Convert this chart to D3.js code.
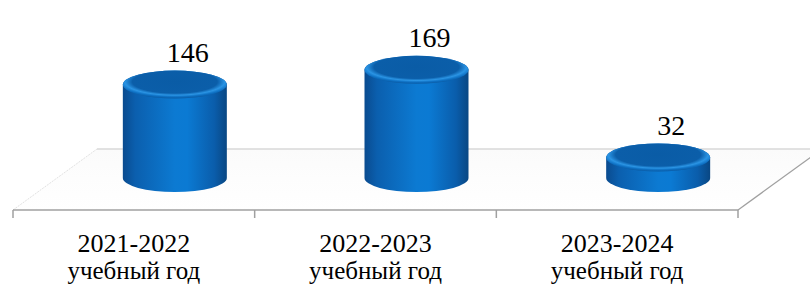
<!DOCTYPE html>
<html>
<head>
  <meta charset="UTF-8">
  <script src="https://d3js.org/d3.v7.min.js"></script>
</head>
<body style="margin:0">
  <script>
    // data
    const years = ["2021-2022", "2022-2023", "2023-2024"];
    const subtitle = "учебный год";
    const values = [146, 169, 32];

    const W = 810, H = 287;
    const FONT = "Liberation Serif";
    const svg = d3.select("body").append("svg")
      .attr("width", W).attr("height", H);

    // floor geometry (3d perspective)
    const front = { y: 210, x0: 13, x1: 738 };
    const back = { y: 149, x0: 97 };
    const depthShift = 41;   // bar centre sits back in the floor
    const rx = 52, ry = 14;

    const x = d3.scaleBand().domain(years).range([front.x0, front.x1]);
    const y = d3.scaleLinear().domain([0, 200]).range([178, 50]);

    const defs = svg.append("defs");
    const body = defs.append("linearGradient").attr("id", "body")
      .attr("x1", "0%").attr("x2", "100%");
    [["0%", "#0a4b8f"], ["12%", "#0b5fae"], ["50%", "#0c7ad2"], ["62%", "#0b7ad3"], ["88%", "#0a5dab"], ["100%", "#094783"]]
      .forEach(([o, c]) => body.append("stop").attr("offset", o).attr("stop-color", c));

    const cap = defs.append("radialGradient").attr("id", "cap")
      .attr("cx", "50%").attr("cy", "40%").attr("r", "60%");
    [["0%", "#0a5ca6"], ["68%", "#0b5ea9"], ["80%", "#2a94e4"], ["90%", "#0d6fc2"], ["100%", "#0a5aa3"]]
      .forEach(([o, c]) => cap.append("stop").attr("offset", o).attr("stop-color", c));

    const floorGrad = defs.append("linearGradient").attr("id", "floor")
      .attr("x1", "0%").attr("y1", "0%").attr("x2", "0%").attr("y2", "100%");
    floorGrad.append("stop").attr("offset", "0%").attr("stop-color", "#fbfbfb");
    floorGrad.append("stop").attr("offset", "100%").attr("stop-color", "#ffffff");

    const slope = (front.y - back.y) / (back.x0 - front.x0);
    const backRight = front.x1 + (front.y - back.y) / slope;

    svg.append("path")
      .attr("d", `M${front.x0},${front.y} L${front.x1},${front.y} L${backRight},${back.y} L${back.x0},${back.y} Z`)
      .attr("fill", "url(#floor)");

    // back edge
    svg.append("line")
      .attr("x1", back.x0).attr("x2", W).attr("y1", back.y).attr("y2", back.y)
      .attr("stroke", "#d9d9d9").attr("stroke-width", 1.5);
    // left edge (faint)
    svg.append("line")
      .attr("x1", front.x0).attr("y1", front.y).attr("x2", back.x0).attr("y2", back.y)
      .attr("stroke", "#e2e2e2").attr("stroke-width", 1).attr("stroke-dasharray", "2,1");
    // right edge
    svg.append("line")
      .attr("x1", front.x1).attr("y1", front.y).attr("x2", backRight).attr("y2", back.y)
      .attr("stroke", "#a0a0a0").attr("stroke-width", 1.3);
    // front edge
    svg.append("line")
      .attr("x1", front.x0).attr("x2", front.x1).attr("y1", front.y).attr("y2", front.y)
      .attr("stroke", "#a0a0a0").attr("stroke-width", 1.5);

    // ticks
    const tickXs = years.map(d => x(d)).concat([x(years[years.length - 1]) + x.bandwidth()]);
    svg.append("g").selectAll("line").data(tickXs).join("line")
      .attr("x1", d => d).attr("x2", d => d)
      .attr("y1", front.y).attr("y2", front.y + 8)
      .attr("stroke", "#a0a0a0").attr("stroke-width", 1.5);

    // cylinders
    const bars = svg.append("g").selectAll("g").data(values).join("g");
    bars.each(function (v, i) {
      const g = d3.select(this);
      const cx = x(years[i]) + x.bandwidth() / 2 + depthShift;
      const yb = y(0), yt = y(v);
      g.append("path")
        .attr("d", `M${cx - rx},${yt} L${cx - rx},${yb} A${rx},${ry} 0 0 0 ${cx + rx},${yb} L${cx + rx},${yt} A${rx},${ry} 0 0 0 ${cx - rx},${yt} Z`)
        .attr("fill", "url(#body)");
      g.append("ellipse")
        .attr("cx", cx).attr("cy", yt).attr("rx", rx).attr("ry", ry)
        .attr("fill", "url(#cap)");
    });

    // value labels
    svg.selectAll(".val").data(values).join("text").attr("class", "val")
      .attr("x", (v, i) => x(years[i]) + x.bandwidth() / 2 + depthShift + 13)
      .attr("y", v => y(v) - ry - 9)
      .attr("text-anchor", "middle")
      .attr("font-family", FONT).attr("font-size", 28)
      .style("font-family", FONT)
      .text(v => v);

    // category labels
    const cx0 = d => x(d) + x.bandwidth() / 2;
    svg.selectAll(".yr").data(years).join("text").attr("class", "yr")
      .attr("x", cx0).attr("y", 252).attr("text-anchor", "middle")
      .attr("font-family", FONT).attr("font-size", 26)
      .style("font-family", FONT)
      .text(d => d);
    svg.selectAll(".sub").data(years).join("text").attr("class", "sub")
      .attr("x", cx0).attr("y", 279).attr("text-anchor", "middle")
      .attr("font-family", FONT).attr("font-size", 25)
      .style("font-family", FONT)
      .text(subtitle);
  </script>
</body>
</html>
